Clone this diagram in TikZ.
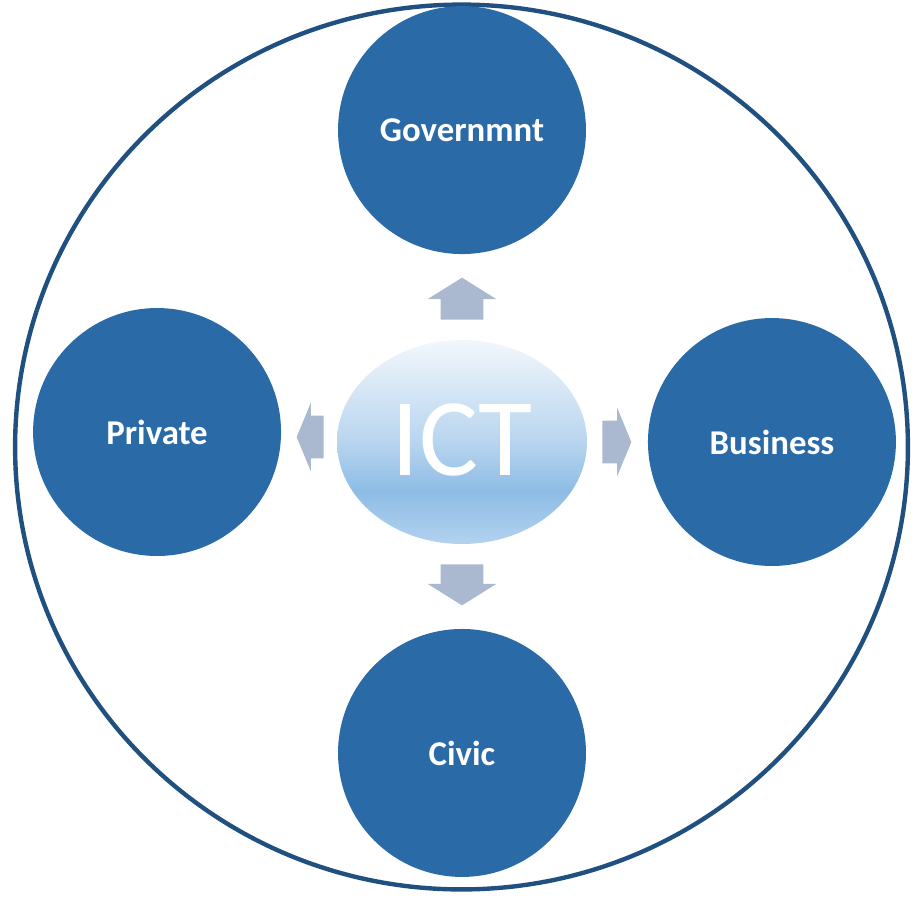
\documentclass[tikz,border=0pt]{standalone}
\usepackage{fontspec}
\setmainfont{Carlito}
\usepackage{tikz}
\usetikzlibrary{positioning, shapes.geometric, shapes.arrows}
\definecolor{sectorblue}{HTML}{2A6AA6}
\definecolor{framedark}{HTML}{1F5080}
\definecolor{arrowgrey}{HTML}{ABB9D0}
\definecolor{icttop}{HTML}{F2F7FC}
\definecolor{ictmid}{HTML}{B8D5EF}
\definecolor{ictdeep}{HTML}{8EBCE5}
\definecolor{ictbase}{HTML}{B2D2EF}
\pgfdeclareverticalshading{ictshade}{100bp}{color(0bp)=(ictbase); color(25bp)=(ictbase); color(38bp)=(ictdeep); color(50bp)=(ictmid); color(75bp)=(icttop); color(100bp)=(icttop)}

\begin{document}
\begin{tikzpicture}[x=0.02cm, y=-0.02cm, node distance=6.2cm, on grid,
    sector/.style={circle, fill=sectorblue, minimum size=4.96cm, inner sep=0pt, text=white, font=\bfseries\fontsize{19.8}{24}\selectfont},
    blockarrow/.style={single arrow, fill=arrowgrey, inner xsep=0pt, inner ysep=0.42cm, minimum width=0pt, single arrow head extend=0.26cm, anchor=tail}]
  \useasboundingbox (0,0) rectangle (915,897);
  \node[ellipse, draw=framedark, line width=2.5pt, minimum width=17.86cm, minimum height=17.7cm] (frame) at (461.5,447) {};
  \node[ellipse, shading=ictshade, minimum width=5cm, minimum height=4.08cm, inner sep=0pt, text=white, font=\fontsize{63}{70}\selectfont] (ict) at (462,442) {\raisebox{0.08cm}{ICT}};
  \node[sector, above of=ict, yshift=0.04cm] (gov) {Governmnt};
  \node[sector, below of=ict, yshift=-0.02cm] (civic) {Civic};
  \node[sector, left of=ict, xshift=0.1cm, yshift=0.2cm] (private) {Private};
  \node[sector, right of=ict] (business) {Business};
  \node[blockarrow, rotate=90, minimum height=0.84cm, single arrow tip angle=116] (toGov) at (462,320) {};
  \node[blockarrow, rotate=-90, minimum height=0.82cm, single arrow tip angle=116] (toCivic) at (462,564) {};
  \node[blockarrow, rotate=180, minimum height=0.54cm, single arrow tip angle=135] (toPrivate) at (324,437) {};
  \node[blockarrow, minimum height=0.58cm, single arrow tip angle=135] (toBusiness) at (602,442) {};
\end{tikzpicture}
\end{document}
